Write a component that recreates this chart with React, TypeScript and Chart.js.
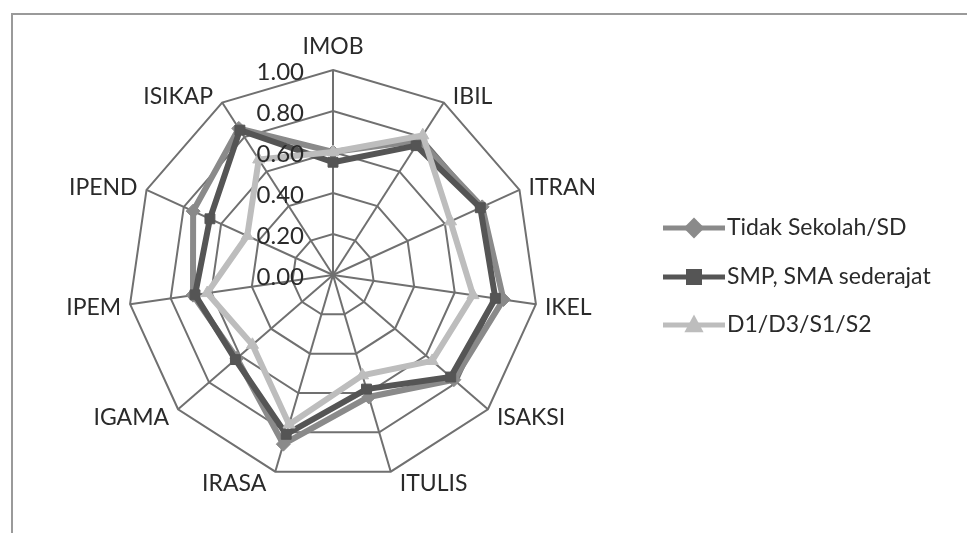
import { useEffect, useRef } from 'react';
import { Chart, registerables } from 'chart.js';

Chart.register(...registerables);

const CATEGORIES = ['IMOB', 'IBIL', 'ITRAN', 'IKEL', 'ISAKSI', 'ITULIS', 'IRASA', 'IGAMA', 'IPEM', 'IPEND', 'ISIKAP'];
const SERIES_NAMES = ['Tidak Sekolah/SD', 'SMP, SMA sederajat', 'D1/D3/S1/S2'];
const TIDAK_SEKOLAH = [0.60, 0.78, 0.80, 0.84, 0.78, 0.62, 0.86, 0.62, 0.69, 0.75, 0.85];
const SMP_SMA = [0.55, 0.75, 0.79, 0.80, 0.76, 0.58, 0.81, 0.63, 0.68, 0.66, 0.84];
const D1_S2 = [0.60, 0.81, 0.63, 0.69, 0.64, 0.51, 0.76, 0.52, 0.62, 0.46, 0.67];
const TICK_VALUES = [0, 0.2, 0.4, 0.6, 0.8, 1.0];
const TICK_LABELS = ['0.00', '0.20', '0.40', '0.60', '0.80', '1.00'];

const COLORS = ['#8a8a8a', '#555555', '#bdbdbd'];
const STYLES = ['rectRot', 'rect', 'triangle'];
const FONT = 'Lato';
const TEXT = '#2a2a2a';

function drawMarker(ctx: CanvasRenderingContext2D, style: string, x: number, y: number, s: number, color: string) {
  ctx.fillStyle = color;
  ctx.beginPath();
  if (style === 'rect') {
    ctx.rect(x - s, y - s, 2 * s, 2 * s);
  } else if (style === 'rectRot') {
    ctx.moveTo(x, y - s * 1.3);
    ctx.lineTo(x + s * 1.3, y);
    ctx.lineTo(x, y + s * 1.3);
    ctx.lineTo(x - s * 1.3, y);
    ctx.closePath();
  } else {
    ctx.moveTo(x, y - s * 1.3);
    ctx.lineTo(x + s * 1.2, y + s * 0.9);
    ctx.lineTo(x - s * 1.2, y + s * 0.9);
    ctx.closePath();
  }
  ctx.fill();
}

const overlay = {
  id: 'overlay',
  afterDraw(chart: any) {
    const ctx: CanvasRenderingContext2D = chart.ctx;
    const r = chart.scales.r;
    ctx.save();
    ctx.textBaseline = 'middle';
    // category labels (Excel-style placement around the outer ring)
    ctx.font = `23px ${FONT}`;
    ctx.fillStyle = TEXT;
    chart.data.labels.forEach((lab: string, i: number) => {
      const p = r.getPointPosition(i, r.drawingArea);
      const th = (2 * Math.PI * i) / chart.data.labels.length;
      const sx = Math.sin(th);
      const cy = Math.cos(th);
      if (Math.abs(sx) < 0.1) {
        ctx.textAlign = 'center';
        ctx.fillText(lab, p.x, p.y + (cy > 0 ? -23 : 23));
      } else {
        ctx.textAlign = sx > 0 ? 'left' : 'right';
        ctx.fillText(lab, p.x + (sx > 0 ? 9 : -9), p.y - 10 * cy + 2);
      }
    });
    // tick labels
    ctx.font = `24px ${FONT}`;
    ctx.textAlign = 'right';
    TICK_VALUES.forEach((v, i) => {
      const d = r.getDistanceFromCenterForValue(v);
      ctx.fillText(TICK_LABELS[i], r.xCenter - 29, r.yCenter - d + 2);
    });
    // legend
    const rows = [228, 277, 325];
    chart.data.datasets.forEach((ds: any, i: number) => {
      const y = rows[i];
      ctx.strokeStyle = ds.borderColor;
      ctx.lineWidth = 5;
      ctx.beginPath();
      ctx.moveTo(663, y);
      ctx.lineTo(725, y);
      ctx.stroke();
      drawMarker(ctx, STYLES[i], 694, y, 8, ds.borderColor);
      ctx.fillStyle = TEXT;
      ctx.textAlign = 'left';
      ctx.font = `23px ${FONT}`;
      ctx.fillText(ds.label, 727, y);
    });
    // frame
    ctx.strokeStyle = '#9a9a9a';
    ctx.lineWidth = 2;
    ctx.beginPath();
    ctx.moveTo(12, 533);
    ctx.lineTo(12, 14);
    ctx.lineTo(967, 14);
    ctx.stroke();
    ctx.restore();
  },
};

export default function App() {
  const ref = useRef<HTMLCanvasElement | null>(null);
  useEffect(() => {
    if (!ref.current) return;
    const seriesData = [TIDAK_SEKOLAH, SMP_SMA, D1_S2];
    const chart = new Chart(ref.current, {
      type: 'radar',
      data: {
        labels: CATEGORIES,
        datasets: seriesData.map((d, i) => ({
          label: SERIES_NAMES[i],
          data: d,
          borderColor: COLORS[i],
          backgroundColor: COLORS[i],
          borderWidth: 6,
          fill: false,
          pointStyle: STYLES[i] as any,
          pointRadius: 7,
          pointBackgroundColor: COLORS[i],
          pointBorderColor: COLORS[i],
          pointBorderWidth: 1,
          order: 3 - i,
        })),
      },
      options: {
        animation: false,
        responsive: false,
        layout: { padding: { left: 128, right: 429, top: 70, bottom: 53 } },
        plugins: { legend: { display: false }, tooltip: { enabled: false } },
        scales: {
          r: {
            min: 0,
            max: 1,
            ticks: { stepSize: 0.2, display: false },
            grid: { color: '#707070', lineWidth: 2, circular: false },
            angleLines: { color: '#707070', lineWidth: 2 },
            pointLabels: { display: false },
          },
        },
      },
      plugins: [overlay],
    });
    return () => chart.destroy();
  }, []);
  return (
    <div style={{ position: 'fixed', left: 0, top: 0, width: 967, height: 533, background: '#fff' }}>
      <canvas ref={ref} width={967} height={533} style={{ width: 967, height: 533, display: 'block' }} />
    </div>
  );
}
